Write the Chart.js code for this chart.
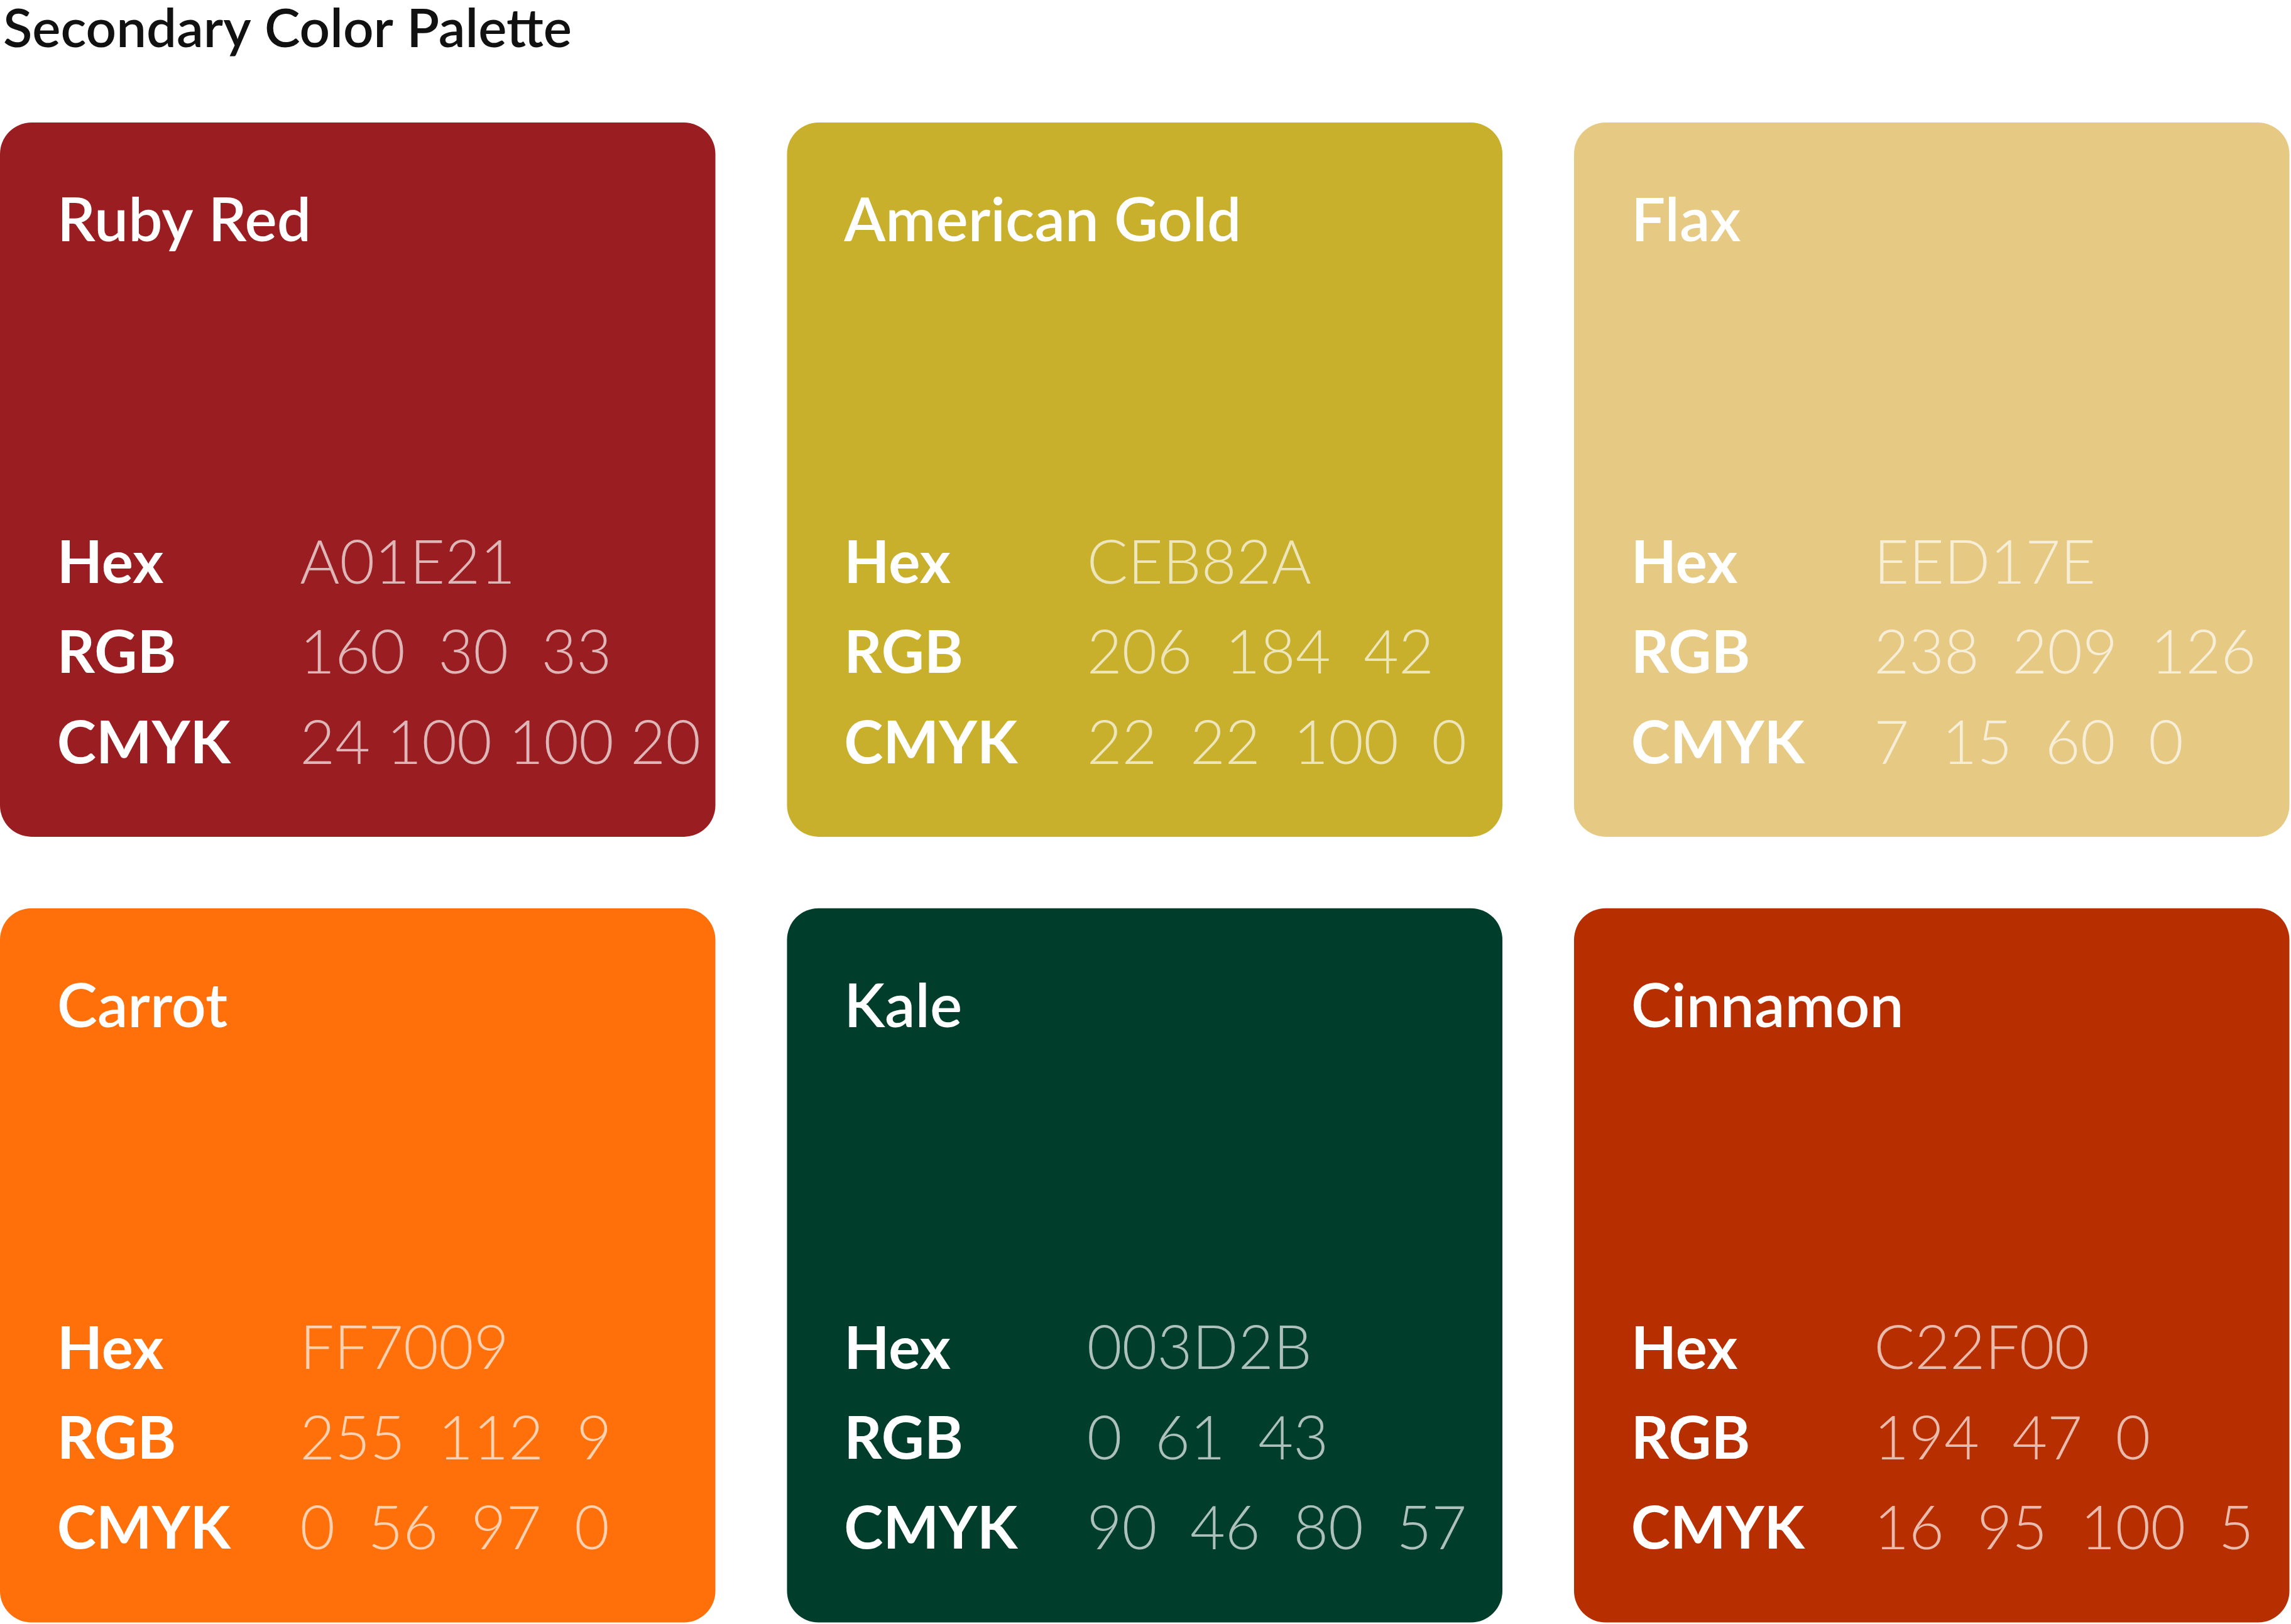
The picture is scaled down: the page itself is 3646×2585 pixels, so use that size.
<!DOCTYPE html>
<html><head><meta charset="utf-8">
<script src="https://cdn.jsdelivr.net/npm/chart.js@4/dist/chart.umd.min.js"></script>
<style>html,body{margin:0;background:#fff}#wrap{width:3646px;height:2585px}</style>
</head><body><div id="wrap"><canvas id="c"></canvas></div>
<script>
// palette data
const title = 'Secondary Color Palette';
const names = ['Ruby Red','American Gold','Flax','Carrot','Kale','Cinnamon'];
const fills = ['#9a1d22','#c8b02c','#e6c982','#ff700a','#003d2b','#b72e00'];
const hexVals = ['A01E21','CEB82A','EED17E','FF7009','003D2B','C22F00'];
const rgbVals = ['160  30  33','206  184  42','238  209  126','255  112  9','0  61  43','194  47  0'];
const cmykVals = ['24 100 100 20','22  22  100  0','7  15  60  0','0  56  97  0','90  46  80  57','16  95  100  5'];
const rowLabels = ['Hex','RGB','CMYK'];
const cols = [0,1,2,0,1,2];
const rows = [0,0,0,1,1,1];
const cardSize = 0.909;

const swatches = {
  id:'swatches',
  afterDraw(chart){
    const ctx = chart.ctx, x = chart.scales.x, y = chart.scales.y;
    const u = x.getPixelForValue(1) - x.getPixelForValue(0);
    ctx.save();
    ctx.textBaseline = 'middle';
    ctx.fillStyle = '#111';
    ctx.font = '600 ' + (0.068*u) + 'px Lato, sans-serif';
    ctx.fillText(title, x.getPixelForValue(0.004), y.getPixelForValue(-0.118));
    names.forEach((n,i)=>{
      const x0 = x.getPixelForValue(cols[i]), y0 = y.getPixelForValue(rows[i]);
      const w = x.getPixelForValue(cols[i]+cardSize)-x0, h = y.getPixelForValue(rows[i]+cardSize)-y0;
      ctx.fillStyle = fills[i];
      ctx.beginPath(); ctx.roundRect(x0,y0,w,h,0.04*u); ctx.fill();
      ctx.fillStyle = '#fff';
      ctx.font = '600 ' + (0.077*u) + 'px Lato, sans-serif';
      ctx.fillText(n, x0+0.0725*u, y0+0.126*u);
      const vals = [hexVals[i], rgbVals[i], cmykVals[i]];
      rowLabels.forEach((lab,k)=>{
        const yy = y0 + (0.561+0.1145*k)*u;
        ctx.fillStyle = '#fff';
        ctx.font = '700 ' + (0.075*u) + 'px Lato, sans-serif';
        ctx.fillText(lab, x0+0.0725*u, yy);
        ctx.fillStyle = 'rgba(255,255,255,0.68)';
        ctx.font = '300 ' + (0.077*u) + 'px Lato, sans-serif';
        ctx.fillText(vals[k], x0+0.381*u, yy);
      });
    });
    ctx.restore();
  }
};

new Chart(document.getElementById('c'), {
  type:'scatter',
  data:{datasets:[{data:[]}]},
  options:{
    responsive:true, maintainAspectRatio:false, animation:false,
    layout:{padding:0},
    plugins:{legend:{display:false},tooltip:{enabled:false}},
    scales:{
      x:{type:'linear',min:0,max:2+cardSize+0.002,display:false},
      y:{type:'linear',min:-0.156,max:1+cardSize+0.002,reverse:true,display:false}
    }
  },
  plugins:[swatches]
});
</script></body></html>
